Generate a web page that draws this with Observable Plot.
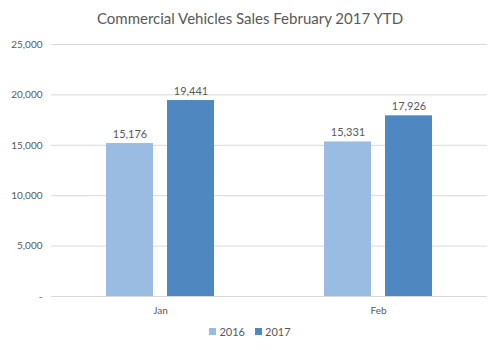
<!DOCTYPE html>
<html><head><meta charset="utf-8">
<script src="https://cdn.jsdelivr.net/npm/d3@7"></script>
<script src="https://cdn.jsdelivr.net/npm/@observablehq/plot@0.6"></script>
<style>
body{margin:0;background:#fff;font-family:Lato,"Open Sans",sans-serif;}
#title{height:36px;line-height:36px;text-align:center;font-size:15px;color:#595959;}
#legend{height:20px;display:flex;justify-content:center;align-items:center;font-size:11px;color:#595959;}
#legend span.sw{display:inline-block;width:7px;height:7px;margin-right:3px;}
#legend span.it{display:inline-flex;align-items:center;margin:0 5px;}
</style></head><body>
<div id="title">Commercial Vehicles Sales February 2017 YTD</div>
<div id="chart"></div>
<div id="legend"></div>
<script>
const months = ["Jan", "Feb"];
const years = ["2016", "2017"];
const sales2016 = [15176, 15331];
const sales2017 = [19441, 17926];
const yTicks = [0, 5000, 10000, 15000, 20000, 25000];
const colors = ["#9abbe2", "#4f87c0"];

const data = [];
months.forEach((m, i) => {
  data.push({month: m, year: years[0], value: sales2016[i]});
  data.push({month: m, year: years[1], value: sales2017[i]});
});
const fmt = d3.format(",");

const chart = Plot.plot({
  width: 500,
  height: 285,
  marginLeft: 50,
  marginRight: 13,
  marginTop: 8,
  marginBottom: 25,
  style: {fontFamily: "Lato, 'Open Sans', sans-serif", color: "#595959", background: "#fff"},
  fx: {domain: months, padding: 0, label: null, tickSize: 0, tickPadding: 10, fontSize: 10},
  x: {domain: years, paddingInner: 0.226, paddingOuter: 0.875, axis: null},
  y: {domain: [0, 25000], ticks: yTicks, tickSize: 0, tickPadding: 9, label: null,
      tickFormat: d => d === 0 ? "-" : fmt(d)},
  color: {domain: years, range: colors},
  marks: [
    Plot.ruleY(yTicks, {stroke: "#d9d9d9", strokeWidth: 1}),
    Plot.barY(data, {fx: "month", x: "year", y: "value", fill: "year"}),
    Plot.text(data, {fx: "month", x: "year", y: "value", text: d => fmt(d.value),
      dy: -9, fill: "#595959", fontSize: 11})
  ]
});
chart.querySelectorAll("g[aria-label='y-axis tick label'], g[aria-label='fx-axis tick label']").forEach(g => g.setAttribute("font-size", "10"));
document.getElementById("chart").appendChild(chart);

const legend = document.getElementById("legend");
years.forEach((y, i) => {
  const it = document.createElement("span");
  it.className = "it";
  const sw = document.createElement("span");
  sw.className = "sw";
  sw.style.background = colors[i];
  it.appendChild(sw);
  it.appendChild(document.createTextNode(y));
  legend.appendChild(it);
});
</script>
</body></html>
